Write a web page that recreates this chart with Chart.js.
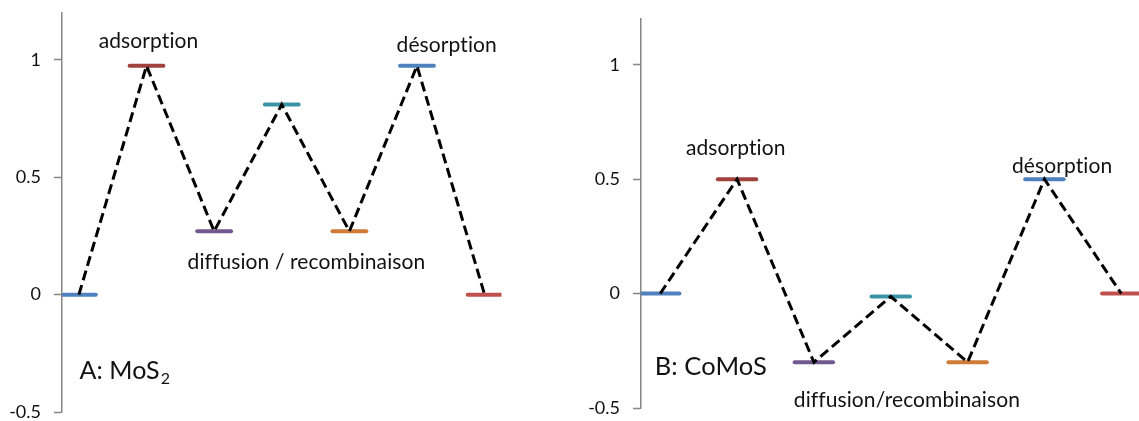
<!DOCTYPE html>
<html><head><meta charset="utf-8">
<script src="https://cdn.jsdelivr.net/npm/chart.js@4.4.0/dist/chart.umd.min.js"></script>
<style>
html,body{margin:0;padding:0;background:#fff;overflow:hidden;width:1139px;height:421px;}
#wrap{position:relative;width:1139px;height:421px;overflow:hidden;}
.c{position:absolute;top:0;height:421px;}
#ca{left:0;width:580px;}
#cb{left:580px;width:580px;}
canvas{font-variant-ligatures:none;}
</style></head><body>
<div id="wrap">
<div class="c" id="ca"><canvas id="A"></canvas></div>
<div class="c" id="cb"><canvas id="B"></canvas></div>
</div>
<script>
// ---- data ----
const steps = [1, 2, 3, 4, 5, 6, 7];
const energyMoS2 = [0, 0.975, 0.27, 0.81, 0.27, 0.975, 0];
const energyCoMoS = [0, 0.5, -0.3, -0.013, -0.3, 0.5, 0];
const yTicks = [-0.5, 0, 0.5, 1];
const levelColors = ['#4f81bd', '#a0413e', '#71588f', '#3b93a6', '#d07b37', '#4f81bd', '#c0504d'];

const notesA = [
  {text: 'adsorption', x: 2.03, y: 1.05, size: 21, align: 'center'},
  {text: 'désorption', x: 6.44, y: 1.034, size: 21, align: 'center'},
  {text: 'diffusion / recombinaison', x: 4.365, y: 0.109, size: 21, align: 'center'},
  {text: 'A: MoS', sub: '2', x: 1.007, y: -0.36, size: 25, align: 'left'}
];
const notesB = [
  {text: 'adsorption', x: 1.983, y: 0.606, size: 21, align: 'center'},
  {text: 'désorption', x: 6.23, y: 0.528, size: 21, align: 'center'},
  {text: 'diffusion/recombinaison', x: 4.21, y: -0.497, size: 21, align: 'center'},
  {text: 'B: CoMoS', x: 0.928, y: -0.357, size: 25.5, align: 'left'}
];

const notesPlugin = {
  id: 'notes',
  afterDatasetsDraw(chart, args, opts) {
    const ctx = chart.ctx, xs = chart.scales.x, ys = chart.scales.y;
    ctx.save();
    ctx.fillStyle = '#111';
    ctx.textBaseline = 'alphabetic';
    if ('letterSpacing' in ctx) ctx.letterSpacing = '0.1px';
    (opts.items || []).forEach(it => {
      ctx.font = it.size + 'px Lato';
      ctx.textAlign = it.align;
      const px = xs.getPixelForValue(it.x), py = ys.getPixelForValue(it.y);
      ctx.fillText(it.text, px, py);
      if (it.sub) {
        const w = ctx.measureText(it.text).width;
        ctx.font = Math.round(it.size * 0.65) + 'px Lato';
        ctx.textAlign = 'left';
        ctx.fillText(it.sub, px + w + 1, py + it.size * 0.2);
      }
    });
    ctx.restore();
  }
};

function makeChart(id, energies, notes, axisW, pad) {
  const datasets = [{
    data: steps.map((s, i) => ({x: s, y: energies[i]})),
    borderColor: '#000', borderWidth: 3, borderDash: [10, 5],
    pointRadius: 0, fill: false, tension: 0
  }];
  steps.forEach((s, i) => {
    datasets.push({
      data: [{x: s - 0.25, y: energies[i]}, {x: s + 0.25, y: energies[i]}],
      borderColor: levelColors[i], borderWidth: 4, borderCapStyle: 'round',
      pointRadius: 0, fill: false
    });
  });
  new Chart(document.getElementById(id), {
    type: 'line',
    data: {datasets},
    options: {
      responsive: true, maintainAspectRatio: false, animation: false,
      layout: {padding: pad},
      plugins: {legend: {display: false}, tooltip: {enabled: false}, notes: {items: notes}},
      scales: {
        x: {type: 'linear', min: 0.75, max: 7.25, display: false},
        y: {
          min: -0.5, max: 1.2,
          afterBuildTicks: s => { s.ticks = yTicks.map(v => ({value: v})); },
          afterFit: s => { s.width = axisW; s.paddingTop = 0; s.paddingBottom = 0; },
          grid: {drawOnChartArea: false, tickLength: 8, color: '#868686', tickWidth: 1.5},
          border: {color: '#868686', width: 1.5},
          ticks: {font: {family: 'Lato', size: 18, lineHeight: 1}, color: '#111', padding: 13,
                  callback: v => String(v)}
        }
      }
    },
    plugins: [notesPlugin]
  });
}

makeChart('A', energyMoS2, notesA, 62, {top: 13, bottom: 9, left: 0, right: 78.5});
makeChart('B', energyCoMoS, notesB, 61, {top: 19, bottom: 13, left: 0, right: 19.5});
</script>
</body></html>
